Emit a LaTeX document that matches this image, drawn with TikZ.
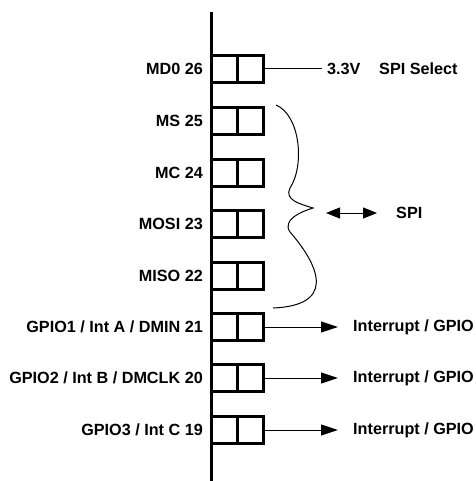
\documentclass[tikz,border=0pt]{standalone}
\usepackage{fontspec}
\setmainfont{Liberation Sans}
\usetikzlibrary{arrows.meta}
\begin{document}
\begin{tikzpicture}[x=1pt,y=-1pt,
  cell/.style={draw,line width=3pt,minimum width=26pt,minimum height=27pt,inner sep=0pt},
  lbl/.style={font=\fontsize{16.2}{18}\selectfont\bfseries,inner sep=0pt},
  wire/.style={line width=1pt},
  tip/.style={-{Triangle[length=17pt,width=11pt]}},
  dtip/.style={{Triangle[length=14pt,width=11pt]}-{Triangle[length=14pt,width=11pt]}}]
\useasboundingbox (0,0) rectangle (475,481);
% bus line
\coordinate (bustop) at (211,12);
\coordinate (busbot) at (211,481);
\draw[line width=3pt] (bustop) -- (busbot);
% pins
\foreach \n/\y in {26/69,25/121,24/173,23/224,22/276,21/327,20/378,19/430}{
  \node[cell] (p\n a) at (224,\y) {};
  \node[cell] (p\n b) at (250,\y) {};
}
% labels
\node[lbl,anchor=east] (l26) at (203,69) {MD0 26};
\node[lbl,anchor=east] (l25) at (203,121) {MS 25};
\node[lbl,anchor=east] (l24) at (203,173) {MC 24};
\node[lbl,anchor=east] (l23) at (203,224) {MOSI 23};
\node[lbl,anchor=east] (l22) at (203,276) {MISO 22};
\node[lbl,anchor=east] (l21) at (203,327) {GPIO1 / Int A / DMIN 21};
\node[lbl,anchor=east] (l20) at (203,378) {GPIO2 / Int B / DMCLK 20};
\node[lbl,anchor=east] (l19) at (203,430) {GPIO3 / Int C 19};
% MD0 select
\node[lbl,anchor=west] (v33) at (327,69) {3.3V};
\node[lbl,anchor=west] (spisel) at (379,69) {SPI Select};
\draw[wire,shorten >=5pt] (p26b.east) -- (v33.west);
% brace
\draw[wire] (276,105) .. controls (300,115) and (305,165) .. (290,188)
  .. controls (284,200) and (300,204) .. (313,208)
  .. controls (300,212) and (282,220) .. (290,232)
  .. controls (310,255) and (345,305) .. (273,308);
% SPI arrow
\coordinate (spil) at (326,213);
\coordinate (spir) at (377,213);
\draw[wire,dtip] (spil) -- (spir);
\node[lbl,anchor=west] (spi) at (396,213) {SPI};
% interrupt outputs
\foreach \n/\y in {21/327,20/378,19/430}{
  \node[lbl,anchor=west] (i\n) at (353,\y) {Interrupt / GPIO};
  \draw[wire,tip,shorten >=15pt] (p\n b.east) -- (i\n.west);
}
\end{tikzpicture}
\end{document}
